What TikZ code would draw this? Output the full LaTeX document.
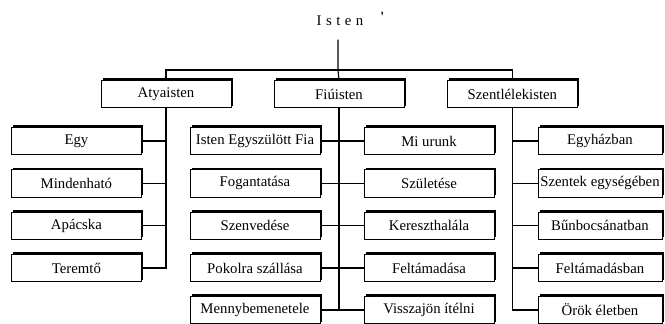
\documentclass[tikz,border=0pt]{standalone}
\usepackage{fontspec}
\setmainfont{Liberation Serif}
\usepackage{tikz}
\usetikzlibrary{shadows}

\tikzset{
  box/.style={draw=black, line width=0.5pt, fill=white, minimum width=3.25cm, minimum height=0.68cm, inner sep=1pt,
    general shadow={fill=black, shadow xshift=1.4pt, shadow yshift=1.4pt},
    font=\fontsize{10.5}{12}\selectfont},
  conn/.style={black, line width=0.8pt}
}

\begin{document}
\begin{tikzpicture}
\useasboundingbox (0cm,0cm) rectangle (16.625cm,-8.075cm);
% top
\node (isten) at (8.5cm,-0.525cm) {\fontsize{10.5}{12}\selectfont I\hspace{3.2pt}s\hspace{3.2pt}t\hspace{3.2pt}e\hspace{3.2pt}n};
\node[inner sep=0pt] (mark) at (9.56cm,-0.42cm) {\bfseries\textquotesingle};
\coordinate (split) at (8.45cm,-1.75cm);
% first level
\node[box] (aty) at (4.15cm,-2.35cm) {Atyaisten};
\node[box] (fiu) at (8.475cm,-2.35cm) {Fiúisten};
\node[box] (szl) at (12.81cm,-2.35cm) {Szentlélekisten};
% Atyaisten
\node[box] (egy) at (1.91cm,-3.525cm) {Egy};
\node[box] (mind) at (1.91cm,-4.583cm) {Mindenható};
\node[box] (apa) at (1.91cm,-5.64cm) {Apácska};
\node[box] (ter) at (1.91cm,-6.7cm) {Teremtő};
% Fiuisten, left
\node[box] (fia) at (6.375cm,-3.525cm) {Isten Egyszülött Fia};
\node[box] (fog) at (6.375cm,-4.583cm) {Fogantatása};
\node[box] (szenv) at (6.375cm,-5.64cm) {Szenvedése};
\node[box] (pok) at (6.375cm,-6.7cm) {Pokolra szállása};
\node[box] (menny) at (6.375cm,-7.75cm) {Mennybemenetele};
% Fiuisten, right
\node[box] (mi) at (10.725cm,-3.525cm) {Mi urunk};
\node[box] (szul) at (10.725cm,-4.583cm) {Születése};
\node[box] (ker) at (10.725cm,-5.64cm) {Kereszthalála};
\node[box] (felt) at (10.725cm,-6.7cm) {Feltámadása};
\node[box] (vissza) at (10.725cm,-7.75cm) {Visszajön ítélni};
% Szentlelekisten
\node[box, minimum width=3.1cm] (egyh) at (15.0cm,-3.525cm) {Egyházban};
\node[box, minimum width=3.1cm] (szent) at (15.0cm,-4.583cm) {Szentek egységében};
\node[box, minimum width=3.1cm] (bun) at (15.0cm,-5.64cm) {Bűnbocsánatban};
\node[box, minimum width=3.1cm] (feltb) at (15.0cm,-6.7cm) {Feltámadásban};
\node[box, minimum width=3.1cm] (orok) at (15.0cm,-7.75cm) {Örök életben};
% connectors
\draw[conn] (isten.south) ++(-0.05cm,-0.22cm) -- (split);
\draw[conn] (split) -| (aty.north);
\draw[conn] (split) -- (fiu.north);
\draw[conn] (split) -| (szl.north);
\draw[conn] (aty.south) |- (egy.east);
\draw[conn] (aty.south) |- (mind.east);
\draw[conn] (aty.south) |- (apa.east);
\draw[conn] (aty.south) |- (ter.east);
\draw[conn] (fiu.south) |- (fia.east);
\draw[conn] (fiu.south) |- (fog.east);
\draw[conn] (fiu.south) |- (szenv.east);
\draw[conn] (fiu.south) |- (pok.east);
\draw[conn] (fiu.south) |- (menny.east);
\draw[conn] (fiu.south) |- (mi.west);
\draw[conn] (fiu.south) |- (szul.west);
\draw[conn] (fiu.south) |- (ker.west);
\draw[conn] (fiu.south) |- (felt.west);
\draw[conn] (fiu.south) |- (vissza.west);
\draw[conn] (szl.south) |- (egyh.west);
\draw[conn] (szl.south) |- (szent.west);
\draw[conn] (szl.south) |- (bun.west);
\draw[conn] (szl.south) |- (feltb.west);
\draw[conn] (szl.south) |- (orok.west);
\end{tikzpicture}
\end{document}
